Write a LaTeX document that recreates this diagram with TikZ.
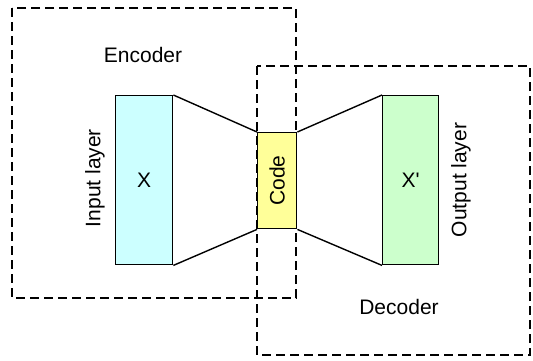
\documentclass[tikz,border=0pt]{standalone}
\usepackage{fontspec}
\setmainfont{Liberation Sans}
\newcommand{\straightquote}{\XeTeXglyph\XeTeXglyphindex "quotesingle"\relax}
\begin{document}
\begin{tikzpicture}[x=1pt,y=-1pt,
  layerbox/.style={draw=black,line width=1.4pt,inner sep=0pt,anchor=north west},
  groupbox/.style={draw=black,line width=1.3pt,dash pattern=on 9pt off 5pt},
  lbl/.style={font=\fontsize{21}{25}\selectfont,inner sep=0pt},
  link/.style={draw=black,line width=1.4pt}]
\useasboundingbox (0,0) rectangle (533,360);
\draw[groupbox] (12,8) rectangle (296,298);
\draw[groupbox] (257,66) rectangle (530,355);
\node[layerbox,fill={rgb,255:red,204;green,255;blue,255},minimum width=57pt,minimum height=169pt] (x) at (115,95) {};
\node[layerbox,fill={rgb,255:red,255;green,255;blue,153},minimum width=39pt,minimum height=96pt] (code) at (257,132) {};
\node[layerbox,fill={rgb,255:red,204;green,255;blue,204},minimum width=56pt,minimum height=169pt] (xp) at (382,95) {};
\draw[link] (x.north east) -- (code.north west);
\draw[link] (x.south east) -- (code.south west);
\draw[link] (code.north east) -- (xp.north west);
\draw[link] (code.south east) -- (xp.south west);
\node[lbl] (xl) at (x.center) {X};
\node[lbl] (xpl) at (xp.center) {X\straightquote};
\node[lbl,rotate=90] (cl) at (code.center) {Code};
\node[lbl] (enc) at (143,55) {Encoder};
\node[lbl] (dec) at (399,307) {Decoder};
\node[lbl,rotate=90] (inl) at (95,178) {Input layer};
\node[lbl,rotate=90] (outl) at (461,180) {Output layer};
\end{tikzpicture}
\end{document}
